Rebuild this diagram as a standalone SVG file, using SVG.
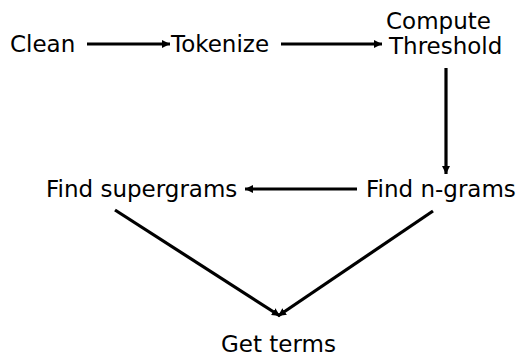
<svg xmlns="http://www.w3.org/2000/svg" width="518" height="356" viewBox="0 0 518 356">
<style>
text{font-family:"DejaVu Sans",sans-serif;font-size:23px;fill:#000}
.c{stroke:#000;stroke-width:3.2;fill:none;marker-end:url(#ah)}
</style>
<defs>
<marker id="ah" markerUnits="userSpaceOnUse" markerWidth="10" markerHeight="10" refX="8" refY="5" orient="auto">
<path d="M0,1 L8,5 L0,9 Z" fill="#000"/>
</marker>
</defs>
<rect width="518" height="356" fill="#fff"/>
<g id="connectors">
<line class="c" x1="87" y1="44" x2="170" y2="44"/>
<line class="c" x1="281" y1="44" x2="382" y2="44"/>
<line class="c" x1="446" y1="68" x2="446" y2="174"/>
<line class="c" x1="357" y1="189" x2="245" y2="189"/>
<line class="c" x1="115" y1="210" x2="280" y2="316"/>
<line class="c" x1="433" y1="211" x2="278" y2="316"/>
</g>
<g id="clean"><text x="10" y="52">Clean</text></g>
<g id="tokenize"><text x="171" y="52">Tokenize</text></g>
<g id="compute"><text x="386" y="29">Compute</text><text x="389" y="53.5">Threshold</text></g>
<g id="ngrams"><text x="366" y="197">Find n-grams</text></g>
<g id="supergrams"><text x="46" y="197">Find supergrams</text></g>
<g id="terms"><text x="278.5" y="352" text-anchor="middle">Get terms</text></g>
</svg>
